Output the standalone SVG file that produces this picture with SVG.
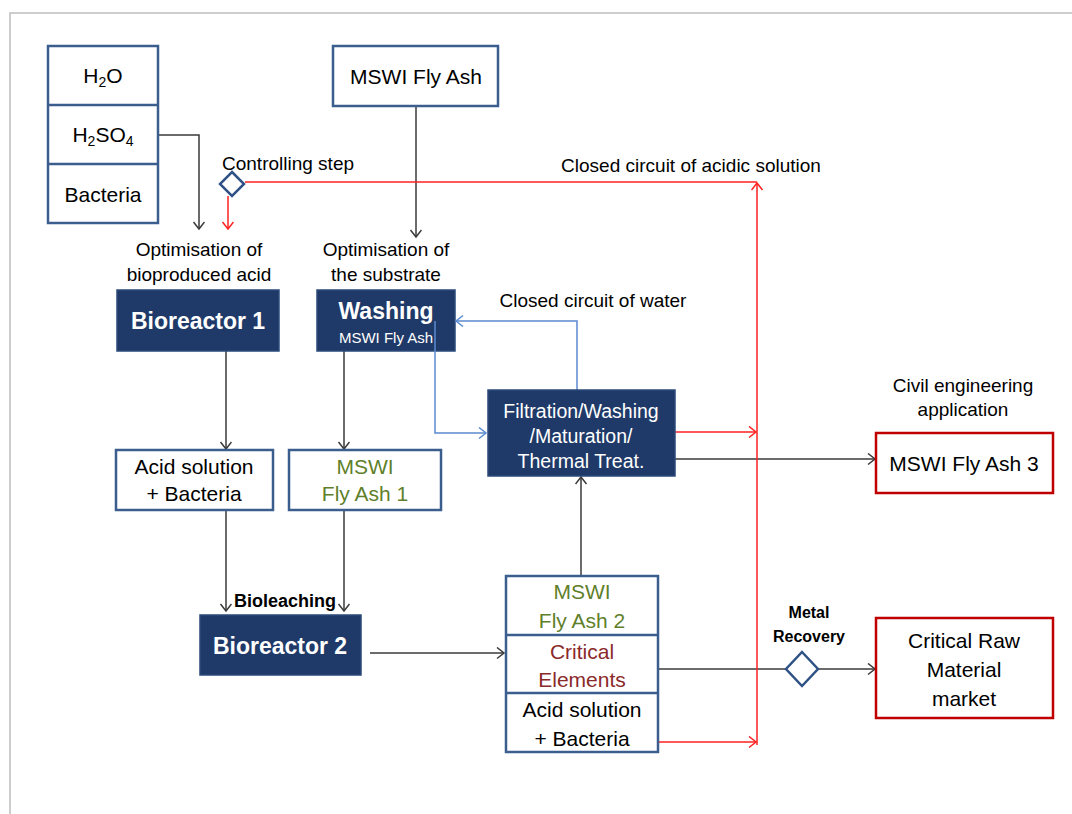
<svg xmlns="http://www.w3.org/2000/svg" width="1072" height="814" viewBox="0 0 1072 814">
<style>
text{font-family:"Liberation Sans",Arial,sans-serif;text-anchor:middle;}
.box{fill:#fff;stroke:#3B5E8E;stroke-width:2.5;}
.dark{fill:#1F3A68;stroke:#2B4A7A;stroke-width:1.5;}
.redbox{fill:#fff;stroke:#C00000;stroke-width:2.5;}
.t{font-size:21px;fill:#000;}
.w{fill:#fff;}
.g{fill:#5F7F2A;}
.dr{fill:#8B2A2A;}
.nv{fill:#1F3864;}
.lbl{font-size:19px;fill:#000;}
.k{fill:none;stroke:#3a3a3a;stroke-width:1.5;}
.r{fill:none;stroke:#FF2020;stroke-width:1.5;}
.b{fill:none;stroke:#5B8BD0;stroke-width:1.5;}
.dia{fill:#fff;stroke:#2F5285;stroke-width:2.5;}
</style>
<defs>
<marker id="ak" markerUnits="userSpaceOnUse" markerWidth="12" markerHeight="14" refX="8" refY="6" orient="auto"><path d="M1,0.5 L8,6 L1,11.5" fill="none" stroke="#3a3a3a" stroke-width="1.5"/></marker>
<marker id="ar" markerUnits="userSpaceOnUse" markerWidth="12" markerHeight="14" refX="8" refY="6" orient="auto"><path d="M1,0.5 L8,6 L1,11.5" fill="none" stroke="#FF2020" stroke-width="1.5"/></marker>
<marker id="ab" markerUnits="userSpaceOnUse" markerWidth="12" markerHeight="14" refX="8" refY="6" orient="auto"><path d="M1,0.5 L8,6 L1,11.5" fill="none" stroke="#5B8BD0" stroke-width="1.5"/></marker>
</defs>
<rect width="1072" height="814" fill="#fff"/>
<path d="M10,814 V13 H1072" fill="none" stroke="#BDBDBD" stroke-width="1.5"/>

<g id="connectors">
<path class="k" d="M159,135 H199 V229" marker-end="url(#ak)"/>
<path class="k" d="M416,106 V237" marker-end="url(#ak)"/>
<path class="k" d="M226,351 V449" marker-end="url(#ak)"/>
<path class="k" d="M344,351 V449" marker-end="url(#ak)"/>
<path class="k" d="M226,510 V611" marker-end="url(#ak)"/>
<path class="k" d="M344,510 V611" marker-end="url(#ak)"/>
<path class="k" d="M370,653 H504" marker-end="url(#ak)"/>
<path class="k" d="M581,576 V477" marker-end="url(#ak)"/>
<path class="k" d="M675,459 H875" marker-end="url(#ak)"/>
<path class="k" d="M658,669 H786"/>
<path class="k" d="M818,669 H875" marker-end="url(#ak)"/>
<path class="r" d="M245,182 H757"/>
<path class="r" d="M757,745 V183" marker-end="url(#ar)"/>
<path class="r" d="M228,196 V229" marker-end="url(#ar)"/>
<path class="r" d="M675,432 H756" marker-end="url(#ar)"/>
<path class="r" d="M658,742 H756" marker-end="url(#ar)"/>
</g>

<g id="input-stack">
<rect class="box" x="48" y="46" width="110" height="177"/>
<line x1="48" y1="105" x2="158" y2="105" stroke="#3B5E8E" stroke-width="2.5"/>
<line x1="48" y1="164" x2="158" y2="164" stroke="#3B5E8E" stroke-width="2.5"/>
<text class="t" x="103" y="83">H<tspan font-size="14" dy="4">2</tspan><tspan dy="-4">O</tspan></text>
<text class="t" x="103" y="142">H<tspan font-size="14" dy="4">2</tspan><tspan dy="-4">SO</tspan><tspan font-size="14" dy="4">4</tspan></text>
<text class="t" x="103" y="202">Bacteria</text>
</g>

<g id="mswi-fly-ash">
<rect class="box" x="333" y="46" width="165" height="60"/>
<text class="t" x="416" y="84">MSWI Fly Ash</text>
</g>

<g id="controlling-step">
<path class="dia" d="M232,172 L244,184 L232,196 L220,184 Z"/>
<text class="lbl" x="222" y="170" style="text-anchor:start">Controlling step</text>
</g>

<g id="labels">
<text class="lbl" x="691" y="172">Closed circuit of acidic solution</text>
<text class="lbl nv" x="199" y="256">Optimisation of</text>
<text class="lbl nv" x="199" y="281">bioproduced acid</text>
<text class="lbl nv" x="386" y="256">Optimisation of</text>
<text class="lbl nv" x="386" y="281">the substrate</text>
<text class="lbl" x="593" y="307">Closed circuit of water</text>
<text class="lbl" x="963" y="392">Civil engineering</text>
<text class="lbl" x="963" y="416">application</text>
<text class="lbl" x="285" y="607" style="font-weight:bold;font-size:18px" fill="#1F3864">Bioleaching</text>
</g>

<g id="bioreactor-1">
<rect class="dark" x="117" y="290" width="162" height="61"/>
<text x="198" y="329" class="w" style="font-size:23px;font-weight:bold">Bioreactor 1</text>
</g>

<g id="washing">
<rect class="dark" x="317" y="290" width="138" height="61"/>
<text x="386" y="319" class="w" style="font-size:23px;font-weight:bold">Washing</text>
<text x="386" y="343" class="w" style="font-size:15px">MSWI Fly Ash</text>
</g>

<g id="water-circuit">
<path class="b" d="M577,390 V321 H456" marker-end="url(#ab)"/>
<path class="b" d="M435,321 V433 H486" marker-end="url(#ab)"/>
</g>

<g id="acid-solution-1">
<rect class="box" x="116" y="450" width="157" height="60"/>
<text class="t" x="194" y="474">Acid solution</text>
<text class="t" x="194" y="501">+ Bacteria</text>
</g>

<g id="mswi-fly-ash-1">
<rect class="box" x="289" y="450" width="152" height="60"/>
<text class="t g" x="365" y="474">MSWI</text>
<text class="t g" x="365" y="501">Fly Ash 1</text>
</g>

<g id="bioreactor-2">
<rect class="dark" x="200" y="615" width="161" height="60"/>
<text x="280" y="654" class="w" style="font-size:23px;font-weight:bold">Bioreactor 2</text>
</g>

<g id="filtration">
<rect class="dark" x="488" y="390" width="187" height="86"/>
<text x="581" y="418" class="w" style="font-size:19.5px">Filtration/Washing</text>
<text x="581" y="443" class="w" style="font-size:19.5px">/Maturation/</text>
<text x="581" y="468" class="w" style="font-size:19.5px">Thermal Treat.</text>
</g>

<g id="output-stack">
<rect class="box" x="506" y="576" width="152" height="176"/>
<line x1="506" y1="635" x2="658" y2="635" stroke="#3B5E8E" stroke-width="2.5"/>
<line x1="506" y1="693" x2="658" y2="693" stroke="#3B5E8E" stroke-width="2.5"/>
<text class="t g" x="582" y="599">MSWI</text>
<text class="t g" x="582" y="628">Fly Ash 2</text>
<text class="t dr" x="582" y="659">Critical</text>
<text class="t dr" x="582" y="687">Elements</text>
<text class="t" x="582" y="717">Acid solution</text>
<text class="t" x="582" y="746">+ Bacteria</text>
</g>

<g id="metal-recovery">
<path class="dia" d="M802,652 L818,669 L802,686 L786,669 Z"/>
<text class="lbl" x="809" y="618" style="font-weight:bold;font-size:16px">Metal</text>
<text class="lbl" x="809" y="642" style="font-weight:bold;font-size:16px">Recovery</text>
</g>

<g id="mswi-fly-ash-3">
<rect class="redbox" x="876" y="433" width="177" height="60"/>
<text class="t" x="964" y="471">MSWI Fly Ash 3</text>
</g>

<g id="crm-market">
<rect class="redbox" x="876" y="618" width="177" height="100"/>
<text class="t" x="964" y="648">Critical Raw</text>
<text class="t" x="964" y="677">Material</text>
<text class="t" x="964" y="706">market</text>
</g>
</svg>
